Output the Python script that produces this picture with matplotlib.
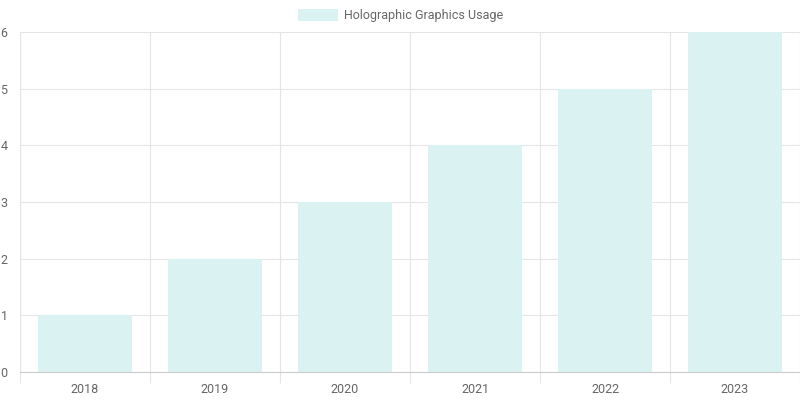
import matplotlib
matplotlib.use("Agg")
from matplotlib import pyplot as plt
from matplotlib.patches import Rectangle

years = ["2018", "2019", "2020", "2021", "2022", "2023"]
usage = [1, 2, 3, 4, 5, 6]
series_name = "Holographic Graphics Usage"

bar_color = "#dbf2f2"
grid_color = "#e5e5e5"
text_color = "#666666"

plt.rcParams['font.family'] = ['Roboto', 'DejaVu Sans']

fig = plt.figure(figsize=(8, 4), dpi=100)
ax = fig.add_axes([20 / 800, 28 / 400, 780 / 800, 340 / 400])

x = list(range(len(years)))
ax.bar(x, usage, width=0.72, color=bar_color, zorder=2)

ax.set_xlim(-0.5, len(years) - 0.5)
ax.set_ylim(0, 6)

# category boundary gridlines (chart.js style)
ax.set_xticks([i - 0.5 for i in range(len(years) + 1)], minor=False)
ax.set_xticklabels([])
ax.set_xticks(x, minor=True)
ax.set_xticklabels(years, minor=True)
ax.tick_params(axis='x', which='major', length=8, color=grid_color, width=0.8)
ax.tick_params(axis='x', which='minor', length=0, pad=8, labelsize=9, labelcolor=text_color)
ax.grid(axis='x', which='major', color=grid_color, lw=0.8, zorder=0)

ax.set_yticks(range(0, 7))
ax.tick_params(axis='y', length=0, pad=9, labelsize=9, labelcolor=text_color)
ax.grid(axis='y', color=grid_color, lw=0.8, zorder=0)

for side in ['top', 'right']:
    ax.spines[side].set_visible(False)
ax.spines['left'].set_color(grid_color)
ax.spines['left'].set_linewidth(0.8)
ax.spines['bottom'].set_color('#cccccc')
ax.spines['bottom'].set_linewidth(0.8)

# legend
fig.patches.append(Rectangle((298 / 800, 1 - 21 / 400), 40 / 800, 12 / 400,
                             transform=fig.transFigure, facecolor=bar_color, edgecolor='none'))
fig.text(344 / 800, 1 - 15 / 400, series_name, fontsize=9, color=text_color, va='center', ha='left')

fig.savefig("out.png", dpi=100, facecolor='white')
